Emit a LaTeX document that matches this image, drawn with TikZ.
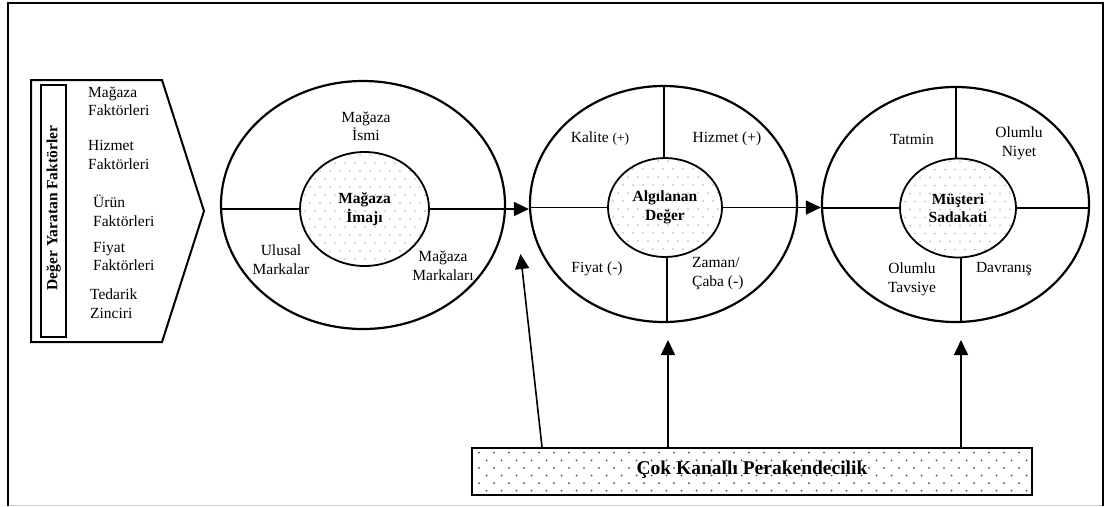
\documentclass[tikz,border=0pt]{standalone}
\usepackage{fontspec}
\setmainfont{Liberation Serif}
\usetikzlibrary{arrows.meta,shapes.geometric,calc}

\definecolor{lightdot}{gray}{0.70}
\definecolor{darkdot}{gray}{0.30}

\tikzset{
  txt/.style={font=\fontsize{15.5}{18.5}\selectfont, align=center, inner sep=0pt},
  btxt/.style={txt, font=\fontsize{15.5}{18.5}\selectfont\bfseries},
  ring/.style={ellipse, draw, line width=2.2pt, inner sep=0pt},
  core/.style={ellipse, draw, line width=1.8pt, inner sep=0pt, btxt,
    path picture={
      \foreach \r in {0,...,17}{
        \foreach \c in {0,...,14}{
          \fill[lightdot] ([xshift={\c*10pt+mod(\r,2)*5pt}, yshift={-\r*8pt-3pt}]path picture bounding box.north west) circle (0.8pt);
        }}}},
  divider/.style={line width=1.6pt},
  arr/.style={line width=1.6pt, -{Triangle[length=15pt, width=14pt]}},
  frame/.style={line width=2pt}
}

\begin{document}
\begin{tikzpicture}[x=1pt, y=-1pt]
  \useasboundingbox (0,0) rectangle (1107,506);

  % outer frame
  \draw[frame] (8,506) -- (8,3) -- (1103,3) -- (1103,506);
  \draw[gray!35, line width=1pt] (9,505) -- (1102,505);

  % value-creating factors (pentagon block)
  \draw[frame] (31,80) -- (162,80) -- (204,211) -- (162,342) -- (31,342) -- cycle;
  \node[draw, line width=1.8pt, minimum width=25pt, minimum height=252pt, inner sep=0pt] (vbar) at (53.5,211) {};
  \node[btxt, rotate=90] (vtitle) at (53.5,208) {Değer Yaratan Faktörler};
  \node[txt, align=left, anchor=west] (f1) at (88,101.5) {Mağaza\\Faktörleri};
  \node[txt, align=left, anchor=west] (f2) at (88,155) {Hizmet\\Faktörleri};
  \node[txt, align=left, anchor=west] (f3) at (93,211) {Ürün\\Faktörleri};
  \node[txt, align=left, anchor=west] (f4) at (93,256.5) {Fiyat\\Faktörleri};
  \node[txt, align=left, anchor=west] (f5) at (90,303.5) {Tedarik\\Zinciri};

  % store image
  \node[ring, minimum width=284pt, minimum height=248pt] (o1) at (363,205) {};
  \node[core, minimum width=129pt, minimum height=114pt] (i1) at (364.5,209) {Mağaza\\İmajı};
  \draw[divider] (i1.west) -- (i1.west -| o1.west);
  \node[txt] (a1) at (366,126.5) {Mağaza\\İsmi};
  \node[txt] (a2) at (281,259.5) {Ulusal\\Markalar};
  \node[txt] (a3) at (443,266) {Mağaza\\Markaları};

  % perceived value
  \node[ring, minimum width=267pt, minimum height=236pt] (o2) at (663.5,204) {};
  \node[core, minimum width=114pt, minimum height=99pt] (i2) at (665,207.5) {Algılanan\\Değer};
  \draw[divider] ([xshift=-1pt]i2.north) -- ([xshift=-1pt]i2.north |- o2.north);
  \draw[divider] ([xshift=2pt]i2.south) -- ([xshift=2pt]i2.south |- o2.south);
  \draw[divider] (i2.west) -- (i2.west -| o2.west);
  \node[txt] (b1) at (600,139) {Kalite {\fontsize{13.5}{15}\selectfont(+)}};
  \node[txt] (b2) at (727,139) {Hizmet (+)};
  \node[txt] (b3) at (597,269) {Fiyat (-)};
  \node[txt, align=left, anchor=west] (b4) at (692,273.5) {Zaman/\\Çaba (-)};

  % customer loyalty
  \node[ring, minimum width=267pt, minimum height=235pt] (o3) at (955.5,204.5) {};
  \node[core, minimum width=116pt, minimum height=99pt] (i3) at (958,208) {Müşteri\\Sadakati};
  \draw[divider] ([xshift=-2pt]i3.north) -- ([xshift=-2pt]i3.north |- o3.north);
  \draw[divider] ([xshift=3pt]i3.south) -- ([xshift=3pt]i3.south |- o3.south);
  \draw[divider] (i3.west) -- (i3.west -| o3.west);
  \draw[divider] (i3.east) -- (i3.east -| o3.east);
  \node[txt] (c1) at (912,139) {Tatmin};
  \node[txt] (c2) at (1019,143.5) {Olumlu\\Niyet};
  \node[txt] (c3) at (912,279.5) {Olumlu\\Tavsiye};
  \node[txt] (c4) at (1004,269) {Davranış};

  % links between the stages
  \draw[arr] (i1.east) -- (i1.east -| o2.west);
  \draw[arr] (i2.east) -- (i2.east -| o3.west);

  % omni-channel retailing
  \node[draw, line width=2pt, minimum width=560pt, minimum height=47pt, inner sep=0pt,
    path picture={
      \foreach \r in {0,...,5}{
        \foreach \c in {0,...,38}{
          \fill[darkdot] ([xshift={\c*15pt+mod(\r,2)*7.5pt+7pt}, yshift={-\r*7.6pt-4.7pt}]path picture bounding box.north west) circle (1pt);
        }}}] (ck) at (752,471.5) {};
  \node[font=\fontsize{19.5}{22}\selectfont\bfseries, inner sep=0pt] (cklabel) at (752,470) {Çok Kanallı Perakendecilik};

  \coordinate (s1) at ($(ck.north west)+(71,0)$);
  \coordinate (t1) at (520.5,254);
  \coordinate (t2) at (668,340);
  \coordinate (t3) at (961,340);
  \draw[arr] (s1) -- (t1);
  \draw[arr] (ck.north -| t2) -- (t2);
  \draw[arr] (ck.north -| t3) -- (t3);
\end{tikzpicture}
\end{document}
